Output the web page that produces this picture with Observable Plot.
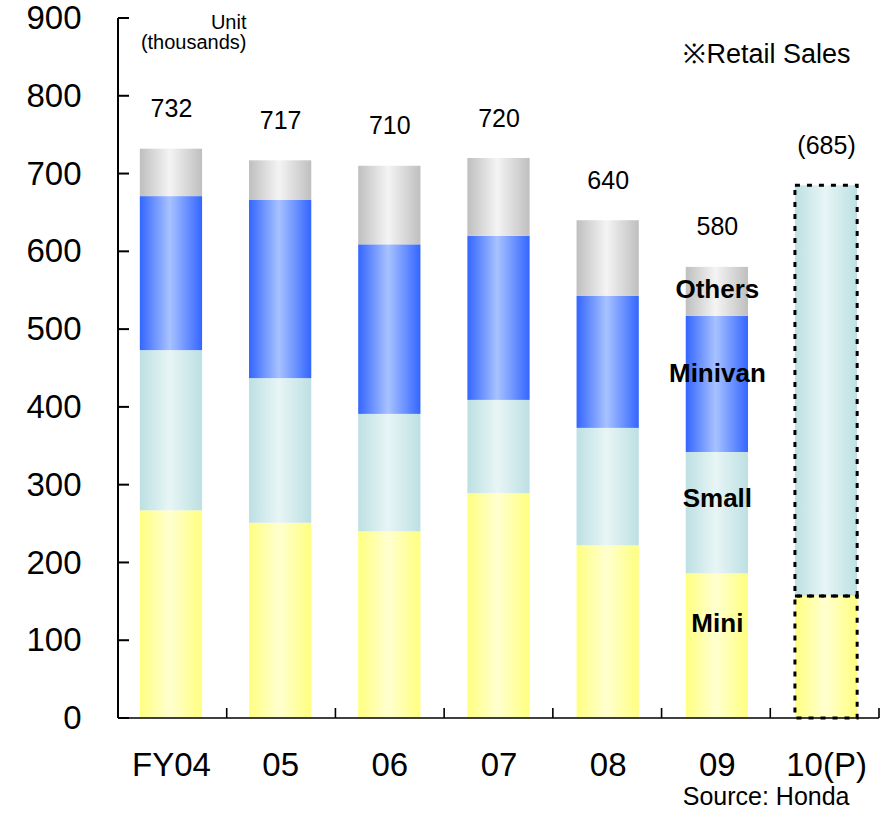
<!DOCTYPE html>
<html>
<head>
<meta charset="utf-8">
<script src="https://cdn.jsdelivr.net/npm/d3@7"></script>
<script src="https://cdn.jsdelivr.net/npm/@observablehq/plot@0.6"></script>
<style>
  html, body { margin: 0; padding: 0; background: #fff; }
</style>
</head>
<body>
<div id="chart"></div>
<script>
// Honda retail sales in Japan by vehicle type (thousand units)
const years   = ["FY04", "05", "06", "07", "08", "09", "10(P)"];
const types   = ["Mini", "Small", "Minivan", "Others"];
const mini    = [267, 251, 240, 289, 222, 186, 157];
const small   = [206, 186, 151, 120, 151, 156, 528];
const minivan = [198, 229, 218, 211, 170, 175, 0];
const others  = [61, 51, 101, 100, 97, 63, 0];
const totals  = [732, 717, 710, 720, 640, 580, 685];
const totalLabels = ["732", "717", "710", "720", "640", "580", "(685)"];
const yTicks  = [0, 100, 200, 300, 400, 500, 600, 700, 800, 900];
const forecastYear = "10(P)";
const typeLabelYear = "09";
const typeLabelY = [122, 282, 443, 551];

// edge / centre colours of each segment's horizontal shading
const edgeColors   = ["#ffff80", "#bde0e3", "#3366ff", "#bfbfbf"];
const centerColors = ["#ffffd0", "#e8f5f5", "#a8c2ff", "#f4f4f4"];

const series = [mini, small, minivan, others];
const rows = years.flatMap((year, i) =>
  types.map((type, j) => ({year, type, value: series[j][i]}))
).filter(d => d.value > 0);

// y-axis line with inward ticks, baseline with ticks between the years
function axisFrame(index, scales, values, dims) {
  const {y} = scales;
  const left = dims.marginLeft;
  const right = dims.width - dims.marginRight;
  const bottom = dims.height - dims.marginBottom;
  const g = d3.create("svg:g").attr("stroke", "black").attr("fill", "none");
  g.append("line")
    .attr("x1", left).attr("x2", left)
    .attr("y1", y(yTicks[yTicks.length - 1])).attr("y2", y(0))
    .attr("stroke-width", 2);
  g.append("line")
    .attr("x1", left).attr("x2", right)
    .attr("y1", bottom).attr("y2", bottom)
    .attr("stroke-width", 1.6);
  for (const t of yTicks) {
    g.append("line")
      .attr("x1", left).attr("x2", left + 11)
      .attr("y1", y(t)).attr("y2", y(t))
      .attr("stroke-width", 2);
  }
  const step = (right - left) / years.length;
  years.forEach((c, i) => {
    const bx = left + (i + 1) * step;
    g.append("line")
      .attr("x1", bx).attr("x2", bx)
      .attr("y1", bottom).attr("y2", bottom - 10)
      .attr("stroke-width", 1.6);
  });
  return g.node();
}

const chart = Plot.plot({
  width: 885,
  height: 819,
  marginLeft: 118,
  marginRight: 6,
  marginTop: 18,
  marginBottom: 101,
  style: {fontFamily: "'Liberation Sans', Arial, sans-serif", color: "black", background: "white", overflow: "visible"},
  x: {domain: years, paddingInner: 0.43, paddingOuter: 0.2, round: false, label: null},
  y: {domain: [0, 900], label: null},
  color: {domain: types, range: types.map(t => `url(#grad-${t})`)},
  marks: [
    Plot.barY(rows, {x: "year", y: "value", z: "type", fill: "type", order: types}),
    Plot.barY(rows.filter(d => d.year === forecastYear), {
      x: "year", y: "value", z: "type", order: types,
      fill: "none", stroke: "black", strokeWidth: 3, strokeDasharray: "5,7"
    }),
    axisFrame,
    Plot.axisX({tickSize: 0, tickPadding: 34, fontSize: 33, label: null}),
    Plot.axisY({ticks: yTicks, tickSize: 0, tickPadding: 37, fontSize: 33, label: null}),
    Plot.text(years, {
      x: d => d, y: (d, i) => totals[i], text: (d, i) => totalLabels[i],
      dy: -40, fontSize: 25
    }),
    Plot.text(types, {
      x: () => typeLabelYear, y: (d, i) => typeLabelY[i], text: d => d,
      fontSize: 26, fontWeight: "bold"
    }),
    Plot.text(["Unit"], {
      frameAnchor: "top-left", dx: 128, dy: -4, textAnchor: "end",
      lineAnchor: "top", fontSize: 20
    }),
    Plot.text(["(thousands)"], {
      frameAnchor: "top-left", dx: 128, dy: 16, textAnchor: "end",
      lineAnchor: "top", fontSize: 20
    }),
    Plot.text(["※Retail Sales"], {
      frameAnchor: "top-right", dx: -29, dy: 36, textAnchor: "end",
      lineAnchor: "middle", fontSize: 27
    }),
    Plot.text(["Source: Honda"], {
      frameAnchor: "bottom-right", dx: -30, dy: 78, textAnchor: "end",
      lineAnchor: "middle", fontSize: 25
    })
  ]
});

// horizontal shading for each vehicle type
const defs = d3.select(chart).insert("defs", ":first-child");
types.forEach((t, i) => {
  const grad = defs.append("linearGradient")
    .attr("id", `grad-${t}`)
    .attr("x1", 0).attr("x2", 1).attr("y1", 0).attr("y2", 0);
  grad.append("stop").attr("offset", "0%").attr("stop-color", edgeColors[i]);
  grad.append("stop").attr("offset", "48%").attr("stop-color", centerColors[i]);
  grad.append("stop").attr("offset", "100%").attr("stop-color", edgeColors[i]);
});

document.getElementById("chart").appendChild(chart);
</script>
</body>
</html>
